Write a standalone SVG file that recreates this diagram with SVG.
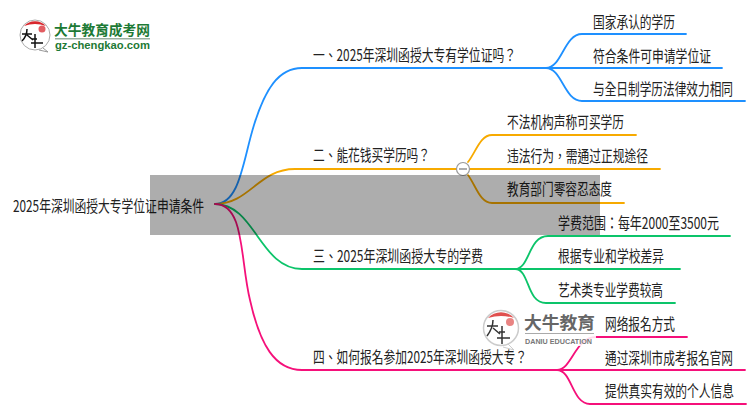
<svg xmlns="http://www.w3.org/2000/svg" width="750" height="410" viewBox="0 0 750 410">
<style>
text{font-family:"Noto Sans CJK TC","Noto Sans CJK SC","Liberation Sans",sans-serif;fill:#222}
.t{font-size:12px}
.l{fill:none;stroke-width:1.800;stroke-linecap:round}
.b{stroke:#1e90ff}.o{stroke:#f7aa00}.g{stroke:#0cc46a}.p{stroke:#f5107a}
</style>
<rect width="750" height="410" fill="#fff"/>
<g id="connectors">
<path class="l b" d="M215 204C240 204 243 160 254 125C265 90 278 68 302 68H546"/>
<path class="l b" d="M546 68C562 68 564 34 582 34H686M546 68H722M546 68C562 68 564 101 582 101H745"/>
<path class="l o" d="M215 204C250 204 258 169 295 169H457"/>
<path class="l o" d="M468 162C476 152 480 135 492 135H636M470 169H660M468 175C476 186 480 203 492 203H624"/>
<path class="l g" d="M215 204C255 204 260 269 302 269H515"/>
<path class="l g" d="M515 269C530 269 528 236 548 236H730M515 269H680M515 269C530 269 526 303 546 303H675"/>
<path class="l p" d="M215 204C245 204 240 260 250 300C260 345 275 370 302 370H557"/>
<path class="l p" d="M557 370C572 370 575 337 596 337H687M557 370H745M557 370C572 370 572 404 590 404H746"/>
</g>
<g id="root"><text class="t" transform="translate(13 212) scale(1 1.35)" textLength="191" lengthAdjust="spacingAndGlyphs">2025年深圳函授大专学位证申请条件</text></g>
<g id="n1"><text class="t" transform="translate(313 61) scale(1 1.35)" textLength="203" lengthAdjust="spacingAndGlyphs">一、2025年深圳函授大专有学位证吗？</text></g>
<g id="n11"><text class="t" transform="translate(593 28) scale(1 1.35)" textLength="82" lengthAdjust="spacingAndGlyphs">国家承认的学历</text></g>
<g id="n12"><text class="t" transform="translate(593 62) scale(1 1.35)" textLength="118" lengthAdjust="spacingAndGlyphs">符合条件可申请学位证</text></g>
<g id="n13"><text class="t" transform="translate(593 95) scale(1 1.35)" textLength="140" lengthAdjust="spacingAndGlyphs">与全日制学历法律效力相同</text></g>
<g id="n2"><text class="t" transform="translate(313 161) scale(1 1.35)" textLength="117" lengthAdjust="spacingAndGlyphs">二、能花钱买学历吗？</text></g>
<g id="toggle"><circle cx="463" cy="169" r="6.5" fill="#fff" stroke="#999" stroke-width="1.2"/><path d="M459 169H467" stroke="#777" stroke-width="1.2"/></g>
<g id="n21"><text class="t" transform="translate(507 128) scale(1 1.35)" textLength="117" lengthAdjust="spacingAndGlyphs">不法机构声称可买学历</text></g>
<g id="n22"><text class="t" transform="translate(507 162) scale(1 1.35)" textLength="141" lengthAdjust="spacingAndGlyphs">违法行为，需通过正规途径</text></g>
<g id="n23"><text class="t" transform="translate(507 195) scale(1 1.35)" textLength="105" lengthAdjust="spacingAndGlyphs">教育部门零容忍态度</text></g>
<g id="n3"><text class="t" transform="translate(313 262) scale(1 1.35)" textLength="170" lengthAdjust="spacingAndGlyphs">三、2025年深圳函授大专的学费</text></g>
<g id="n31"><text class="t" transform="translate(558 229) scale(1 1.35)" textLength="161" lengthAdjust="spacingAndGlyphs">学费范围：每年2000至3500元</text></g>
<g id="n32"><text class="t" transform="translate(558 262) scale(1 1.35)" textLength="106" lengthAdjust="spacingAndGlyphs">根据专业和学校差异</text></g>
<g id="n33"><text class="t" transform="translate(558 296) scale(1 1.35)" textLength="105" lengthAdjust="spacingAndGlyphs">艺术类专业学费较高</text></g>
<g id="n4"><text class="t" transform="translate(313 363) scale(1 1.35)" textLength="214" lengthAdjust="spacingAndGlyphs">四、如何报名参加2025年深圳函授大专？</text></g>
<g id="n41"><text class="t" transform="translate(605 330) scale(1 1.35)" textLength="70" lengthAdjust="spacingAndGlyphs">网络报名方式</text></g>
<g id="n42"><text class="t" transform="translate(605 364) scale(1 1.35)" textLength="128" lengthAdjust="spacingAndGlyphs">通过深圳市成考报名官网</text></g>
<g id="n43"><text class="t" transform="translate(605 397) scale(1 1.35)" textLength="129" lengthAdjust="spacingAndGlyphs">提供真实有效的个人信息</text></g>
<rect x="150" y="175" width="450" height="60" fill="#000" fill-opacity=".32"/>
<g id="logo-top">
<path d="M43 48l5 4-9-2" fill="#fff" stroke="#999"/>
<circle cx="35" cy="35" r="15" fill="#fff" stroke="#aaa"/>
<path d="M24 26a15 15 0 0 1 22 0q-11-4-22 0z" fill="#d8262c"/>
<circle cx="42" cy="29" r="3.500" fill="#d8262c" fill-opacity=".75"/>
<path d="M22 34H32M27 29Q27 36 22 41M27 35L33 40M32 39H37M35 34V48M31 43H43" fill="none" stroke="#111" stroke-width="1.500"/>
<text x="54" y="35" font-size="14" font-weight="700" style="fill:#1d7a35" textLength="96" lengthAdjust="spacingAndGlyphs">大牛教育成考网</text>
<rect x="55" y="38" width="95" height="1.500" fill="#9ab0a0"/>
<text x="55" y="49" font-size="10" font-weight="700" style="fill:#1d7a35;font-family:'Liberation Sans',sans-serif" textLength="95" lengthAdjust="spacingAndGlyphs">gz-chengkao.com</text>
</g>
<g id="logo-bottom">
<rect x="482" y="308" width="114" height="38" fill="#fff" fill-opacity=".85"/>
<path d="M508 344l6 6-11-3" fill="#fff" stroke="#ccc"/>
<circle cx="501" cy="328" r="17.500" fill="#fff" stroke="#ccc" stroke-width="1.500"/>
<path d="M488 318a17.500 17.500 0 0 1 26 0q-13-4-26 0z" fill="#e0504f"/>
<circle cx="510" cy="322" r="4" fill="#e0504f" fill-opacity=".7"/>
<path d="M487 326H498M493 320Q493 328 487 336M493 328L500 334M499 332H505M502 326V344M497 338H510" fill="none" stroke="#333" stroke-width="1.500"/>
<text x="524" y="329" font-size="17" font-weight="700" style="fill:#666" textLength="71" lengthAdjust="spacingAndGlyphs">大牛教育</text>
<rect x="525" y="333" width="69" height="1" fill="#aaa"/>
<text x="525" y="344" font-size="7" font-weight="700" style="fill:#777;font-family:'Liberation Sans',sans-serif" textLength="67" lengthAdjust="spacingAndGlyphs">DANIU EDUCATION</text>
</g>
</svg>
